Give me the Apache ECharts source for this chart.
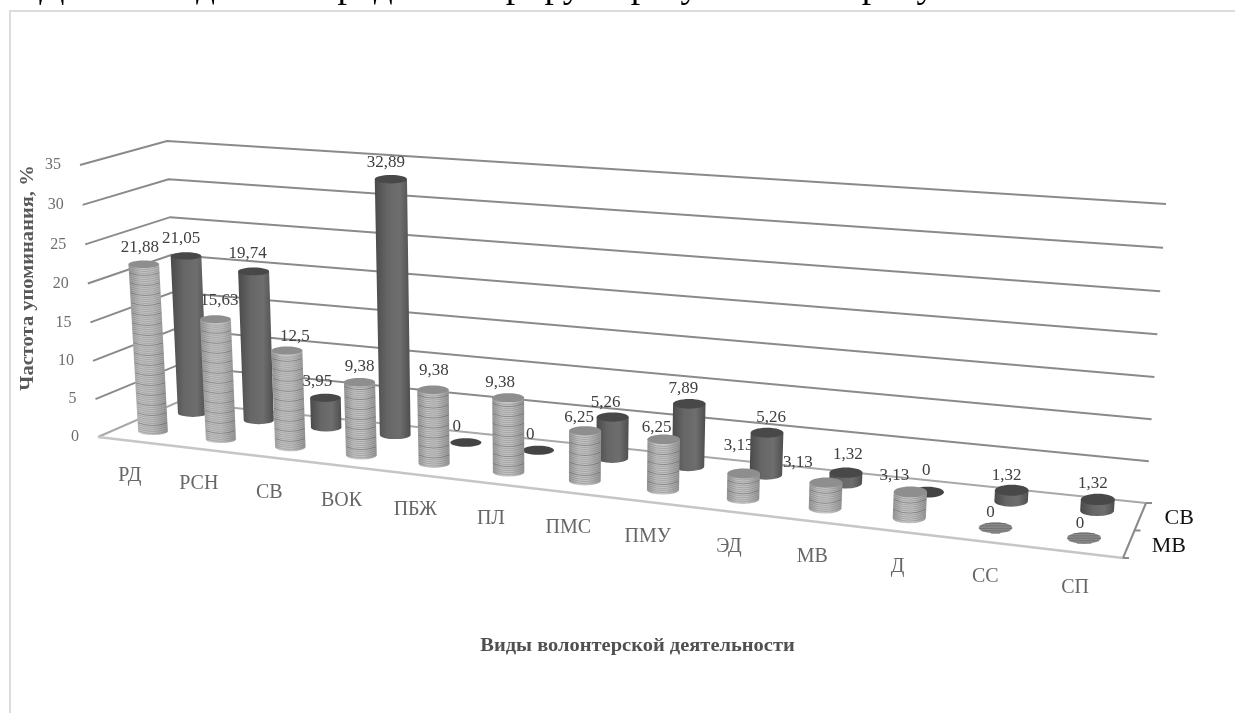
<!DOCTYPE html>
<html><head><meta charset="utf-8">
<style>html,body{margin:0;padding:0;background:#fff;overflow:hidden}#c{width:1235px;height:713px}</style>
<script src="https://cdn.jsdelivr.net/npm/echarts@6/dist/echarts.min.js"></script>
</head><body><div id="c"></div>
<script>
const categories = ['РД','РСН','СВ','ВОК','ПБЖ','ПЛ','ПМС','ПМУ','ЭД','МВ','Д','СС','СП'];
const valuesMV = [21.88,15.63,12.5,9.38,9.38,9.38,6.25,6.25,3.13,3.13,3.13,0,0];
const valuesSV = [21.05,19.74,3.95,32.89,0,0,5.26,7.89,5.26,1.32,0,1.32,1.32];
const seriesNames = ['МВ','СВ'];
const yTicks = [0,5,10,15,20,25,30,35];
const yTitle = 'Частота упоминания, %';
const xTitle = 'Виды волонтерской деятельности';
const pageLine = 'Для наглядности продемонстрируем результаты на рисунке 3.2.';

// label nudges relative to the top of each cylinder
const nudgeMV = [[-4,-17],[4,-19],[8,-14],[0,-16],[1,-19],[-8,-15],[-6,-13],[-7,-12],[-5,-28],[-28,-20],[-16,-16],[-5,-15],[-4,-14]];
const nudgeSV = [[-5,-17],[-6,-18],[-8,-16],[-5,-17],[-9,-16],[-8,-16],[-7,-15],[-6,-15],[4,-15],[2,-18],[-1,-22],[-5,-15],[-5,-16]];

// perspective box
const FL=[98,437],FR=[1123,558],BR=[1146,503],BL=[178,402];
const lerp=(a,b,t)=>a+(b-a)*t;
const warp=u=>u/(u+(1-u)*1.17);
function project(u,d,t){
  const s=warp(u);
  const x=lerp(lerp(FL[0],BL[0],d),lerp(FR[0],BR[0],d),s);
  const y=lerp(lerp(FL[1],BL[1],d),lerp(FR[1],BR[1],d),s);
  const H=lerp(lerp(272,311,s),lerp(261,299,s),d);
  const lean=lerp(lerp(-18,22,s),lerp(-11,20,s),d);
  const k=1.03, e=t/(t+(1-t)*k);
  return [x+lean*e,y-H*e];
}
const depthOf = {0:0.27,1:0.78};
function place(params,api,i,v,d){
  const cs=params.coordSys;
  const p0=api.coord([i,0]), pv=api.coord([i,v]);
  const u=(p0[0]-cs.x)/cs.width, t=(p0[1]-pv[1])/cs.height;
  return {u,t,base:project(u,d,0),top:project(u,d,t)};
}
function cylinder(params,api,isMV){
  const i=api.value(0), v=api.value(1), d=depthOf[isMV?0:1];
  const {u,t,base,top}=place(params,api,i,v,d);
  const rx0=14.8+2.2*u, rx1=rx0*(1+0.05*t);
  const ry=Math.abs(project(u,d+0.105,0)[1]-project(u,d-0.105,0)[1])/2;
  const kids=[];
  const topFill=isMV?'#8e8e8e':'#484848';
  if(v>0){
    const bodyPath=`M${top[0]-rx1} ${top[1]}L${base[0]-rx0} ${base[1]}A${rx0} ${ry} 0 0 0 ${base[0]+rx0} ${base[1]}L${top[0]+rx1} ${top[1]}Z`;
    const stops=isMV
      ?[[0,'#989898'],[0.3,'#c4c4c4'],[0.6,'#c2c2c2'],[1,'#969696']]
      :[[0,'#4a4a4a'],[0.35,'#666666'],[0.7,'#6e6e6e'],[1,'#4e4e4e']];
    kids.push({type:'path',shape:{pathData:bodyPath},style:{fill:{type:'linear',x:0,y:0,x2:1,y2:0,colorStops:stops.map(s=>({offset:s[0],color:s[1]}))},stroke:null}});
    if(isMV){
      const h=base[1]-top[1]; let fine='',strong='';
      let n=0;
      for(let y=h-0.5+ry*0.7;y>ry+1;y-=2,n++){
        const f=Math.min(1,y/h), cx=lerp(top[0],base[0],f), cy=top[1]+y-ry*0.7, r=lerp(rx1,rx0,f)-0.4;
        const arc=`M${cx-r} ${cy}Q${cx} ${cy+1.4*ry} ${cx+r} ${cy}`;
        if(n%5===4) strong+=arc; else fine+=arc;
      }
      kids.push({type:'path',shape:{pathData:fine},style:{fill:null,stroke:'#707070',lineWidth:0.7,opacity:0.5}});
      kids.push({type:'path',shape:{pathData:strong},style:{fill:null,stroke:'#454545',lineWidth:0.8,opacity:0.6}});
    }
    kids.push({type:'ellipse',shape:{cx:top[0],cy:top[1],rx:rx1,ry:ry},style:{fill:topFill}});
  } else {
    kids.push({type:'ellipse',shape:{cx:top[0],cy:top[1],rx:rx1,ry:ry},style:{fill:isMV?'#8a8a8a':'#444444'}});
    if(isMV){
      let hatch='';
      for(let y=-ry+1.2;y<ry;y+=2.4){const w=rx1*Math.sqrt(1-y*y/(ry*ry));hatch+=`M${top[0]-w} ${top[1]+y}L${top[0]+w} ${top[1]+y}`;}
      kids.push({type:'path',shape:{pathData:hatch},style:{fill:null,stroke:'#6a6a6a',lineWidth:0.8}});
    }
  }
  return {type:'group',children:kids};
}
function labelItem(params,api,isMV){
  const i=api.value(0), v=api.value(1), d=depthOf[isMV?0:1];
  const {top}=place(params,api,i,v,d);
  const n=(isMV?nudgeMV:nudgeSV)[i];
  return {type:'text',x:top[0]+n[0],y:top[1]+n[1],style:{text:String(v).replace('.',','),fill:'#404040',font:'17px "Liberation Serif"',textAlign:'center',textVerticalAlign:'middle'}};
}
function wallItem(params,api){
  const tick=api.value(0);
  const cs=params.coordSys;
  const t=(api.coord([0,0])[1]-api.coord([0,tick])[1])/cs.height;
  const kids=[{type:'polyline',shape:{points:[project(0,0,t),project(0,1,t),project(1,1,t)]},style:{fill:null,stroke:tick===0?'#a8a8a8':'#8a8a8a',lineWidth:2}}];
  const p=project(0,0,t);
  kids.push({type:'text',x:p[0]-19,y:p[1],style:{text:String(tick),fill:'#6e6e6e',font:'16px "Liberation Serif"',textAlign:'right',textVerticalAlign:'middle'}});
  return {type:'group',children:kids};
}
function floorItem(params,api){
  const i=api.value(0), cs=params.coordSys;
  const u=(api.coord([i,0])[0]-cs.x)/cs.width;
  const p=project(u,0,0);
  return {type:'text',x:p[0]-2,y:p[1]+35,style:{text:categories[i],fill:'#666666',font:'20px "Liberation Serif"',textAlign:'center',textVerticalAlign:'middle'}};
}
function frameItem(){
  const fl=project(0,0,0),fr=project(1,0,0),br=project(1,1,0),mid=project(1,0.5,0);
  const kids=[
    {type:'line',shape:{x1:fl[0],y1:fl[1],x2:fr[0],y2:fr[1]},style:{stroke:'#c6c6c6',lineWidth:2.6}},
    {type:'line',shape:{x1:fr[0],y1:fr[1],x2:br[0],y2:br[1]},style:{stroke:'#8a8a8a',lineWidth:2}}
  ];
  [fr,mid,br].forEach(p=>kids.push({type:'line',shape:{x1:p[0],y1:p[1],x2:p[0]+6,y2:p[1]},style:{stroke:'#8a8a8a',lineWidth:2}}));
  const q0=project(1,0.25,0),q1=project(1,0.75,0);
  kids.push({type:'text',x:q0[0]+40,y:q0[1]+2,style:{text:seriesNames[0],fill:'#111',font:'22px "Liberation Serif"',textAlign:'center',textVerticalAlign:'middle'}});
  kids.push({type:'text',x:q1[0]+39,y:q1[1]+1,style:{text:seriesNames[1],fill:'#111',font:'22px "Liberation Serif"',textAlign:'center',textVerticalAlign:'middle'}});
  return {type:'group',children:kids};
}
const chart=echarts.init(document.getElementById('c'),null,{renderer:'canvas'});
const pairs=a=>a.map((v,i)=>[i,v]);
chart.setOption({
  animation:false,
  backgroundColor:'#ffffff',
  grid:{left:98,top:165,width:1025,height:272},
  xAxis:{type:'category',data:categories,show:false},
  yAxis:{type:'value',min:0,max:35,interval:5,show:false},
  graphic:[
    {type:'polyline',shape:{points:[[10,720],[10,11],[1240,11]]},style:{fill:null,stroke:'#dcdcdc',lineWidth:2},z:0},
    {type:'text',x:39,y:6,style:{text:pageLine,fill:'#000',font:'37.5px "Liberation Serif"',textVerticalAlign:'bottom'},z:10},
    {type:'text',x:28,y:278,rotation:Math.PI/2,scaleX:1.14,style:{text:yTitle,fill:'#595959',font:'bold 18px "Liberation Serif"',textAlign:'center',textVerticalAlign:'middle'},z:10},
    {type:'text',x:637.5,y:646,scaleX:1.137,style:{text:xTitle,fill:'#505050',font:'bold 18px "Liberation Serif"',textAlign:'center',textVerticalAlign:'middle'},z:10}
  ],
  series:[
    {type:'custom',name:'walls',z:1,silent:true,clip:false,data:yTicks.map(v=>[v]),encode:{x:[],y:0},renderItem:wallItem},
    {type:'custom',name:'floor',z:1,silent:true,clip:false,data:[[0]],renderItem:frameItem},
    {type:'custom',name:'cats',z:1,silent:true,clip:false,data:categories.map((c,i)=>[i]),renderItem:floorItem},
    {type:'custom',name:'МВ подписи',z:2,silent:true,clip:false,data:pairs(valuesMV),renderItem:(p,a)=>labelItem(p,a,true)},
    {type:'custom',name:seriesNames[1],z:3,silent:true,clip:false,data:pairs(valuesSV),renderItem:(p,a)=>cylinder(p,a,false)},
    {type:'custom',name:seriesNames[0],z:4,silent:true,clip:false,data:pairs(valuesMV),renderItem:(p,a)=>cylinder(p,a,true)},
    {type:'custom',name:'СВ подписи',z:5,silent:true,clip:false,data:pairs(valuesSV),renderItem:(p,a)=>labelItem(p,a,false)}
  ]
});
</script></body></html>
